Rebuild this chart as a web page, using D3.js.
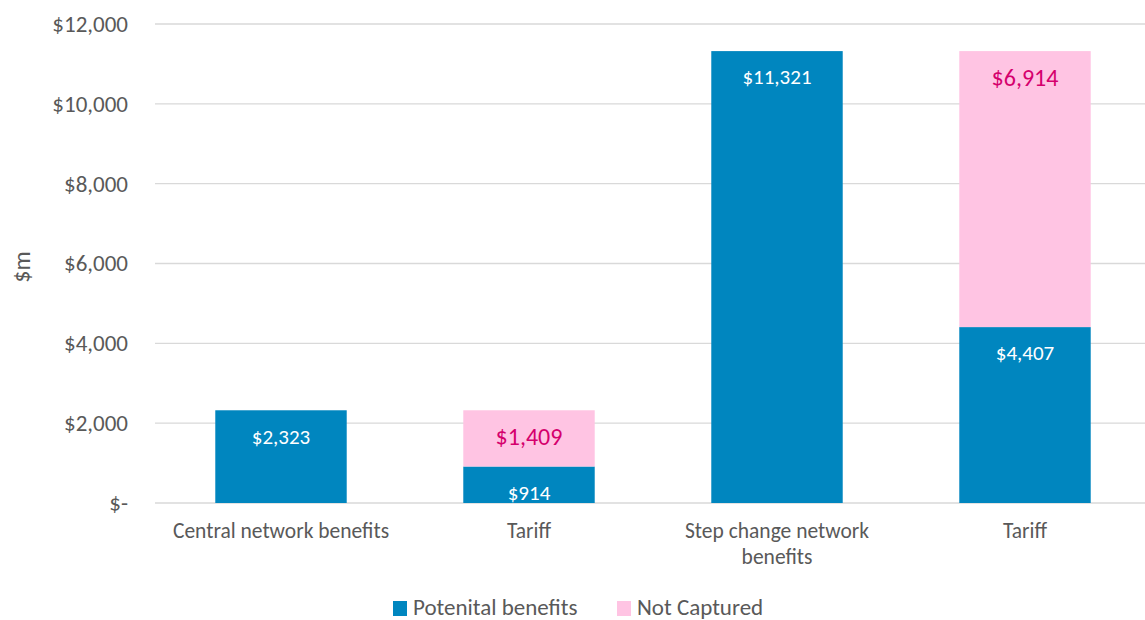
<!DOCTYPE html>
<html>
<head>
<meta charset="utf-8">
<script src="https://cdn.jsdelivr.net/npm/d3@7"></script>
<style>
  body { margin: 0; background: #ffffff; }
  svg { font-family: Carlito, Lato, sans-serif; }
</style>
</head>
<body>
<svg id="chart" width="1145" height="620"></svg>
<script>
const categories = ['Central network benefits', 'Tariff', 'Step change network benefits', 'Tariff'];
const potentialBenefits = [2323, 914, 11321, 4407];
const notCaptured = [0, 1409, 0, 6914];
const yTicks = [0, 2000, 4000, 6000, 8000, 10000, 12000];
const seriesNames = ['Potenital benefits', 'Not Captured'];

const colors = ['#0086bf', '#ffc4e3'];
const labelColors = ['#ffffff', '#d5006d'];

const svgArea = {
  width: 992,
  height: 479,
  margin: { top: 24, left: 157 }
};

const svg = d3.select('#chart');
const g = svg.append('g')
  .attr('transform', `translate(${svgArea.margin.left},${svgArea.margin.top})`);

const x = d3.scaleBand()
  .domain(d3.range(categories.length))
  .range([0, svgArea.width])
  .paddingInner(0.47)
  .paddingOuter(0.235);

const y = d3.scaleLinear()
  .domain([0, 12000])
  .range([svgArea.height, 0]);

// gridlines
g.append('g')
  .selectAll('line')
  .data(yTicks)
  .join('line')
  .attr('x1', -2)
  .attr('x2', svgArea.width)
  .attr('y1', d => y(d))
  .attr('y2', d => y(d))
  .attr('stroke', '#d9d9d9')
  .attr('stroke-width', 1.3);

// y axis labels
const fmt = d => d === 0 ? '$-' : '$' + d3.format(',')(d);
g.append('g')
  .call(d3.axisLeft(y).tickValues(yTicks).tickFormat(fmt).tickSize(0).tickPadding(29))
  .call(a => a.select('.domain').remove())
  .selectAll('text')
  .attr('fill', '#595959')
  .style('font-size', '23px')
  .style('font-family', 'Carlito, Lato, sans-serif');

// stacked data
const stackData = categories.map((c, i) => ({ i, p: potentialBenefits[i], n: notCaptured[i] }));
const stack = d3.stack().keys(['p', 'n'])(stackData);

stack.forEach((layer, li) => {
  const lg = g.append('g');
  lg.selectAll('rect')
    .data(layer.filter(d => d[1] - d[0] > 0))
    .join('rect')
    .attr('x', d => x(d.data.i))
    .attr('width', x.bandwidth())
    .attr('y', d => y(d[1]))
    .attr('height', d => y(d[0]) - y(d[1]))
    .attr('fill', colors[li]);
  lg.selectAll('text')
    .data(layer.filter(d => d[1] - d[0] > 0))
    .join('text')
    .attr('x', d => x(d.data.i) + x.bandwidth() / 2)
    .attr('y', d => y(d[1]) + 26)
    .attr('dy', '0.35em')
    .attr('text-anchor', 'middle')
    .attr('fill', labelColors[li])
    .style('font-size', li === 0 ? '21px' : '24px')
    .text(d => '$' + d3.format(',')(d[1] - d[0]));
});

// x axis labels (wrapped)
const wrapAt = 240;
categories.forEach((c, i) => {
  const t = g.append('text')
    .attr('x', x(i) + x.bandwidth() / 2)
    .attr('y', svgArea.height + 35)
    .attr('text-anchor', 'middle')
    .attr('fill', '#595959')
    .style('font-size', '21.5px');
  const words = c.split(' ');
  let line = [];
  let tspan = t.append('tspan').attr('x', x(i) + x.bandwidth() / 2).attr('dy', 0);
  for (const w of words) {
    line.push(w);
    tspan.text(line.join(' '));
    if (tspan.node().getComputedTextLength() > wrapAt && line.length > 1) {
      line.pop();
      tspan.text(line.join(' '));
      line = [w];
      tspan = t.append('tspan').attr('x', x(i) + x.bandwidth() / 2).attr('dy', '1.2em').text(w);
    }
  }
});

// y axis title
svg.append('text')
  .attr('transform', 'rotate(-90)')
  .attr('x', -267)
  .attr('y', 30)
  .attr('text-anchor', 'middle')
  .attr('fill', '#595959')
  .style('font-size', '24px')
  .text('$m');

// legend
const legend = svg.append('g').attr('transform', 'translate(393,607)');
const legendX = [0, 224];
seriesNames.forEach((name, i) => {
  const lg = legend.append('g').attr('transform', `translate(${legendX[i]},0)`);
  lg.append('rect')
    .attr('x', 0)
    .attr('y', -6)
    .attr('width', 14)
    .attr('height', 15)
    .attr('fill', colors[i]);
  lg.append('text')
    .attr('x', 20)
    .attr('y', 0)
    .attr('dy', '0.35em')
    .attr('fill', '#595959')
    .style('font-size', '23px')
    .text(name);
});
</script>
</body>
</html>
